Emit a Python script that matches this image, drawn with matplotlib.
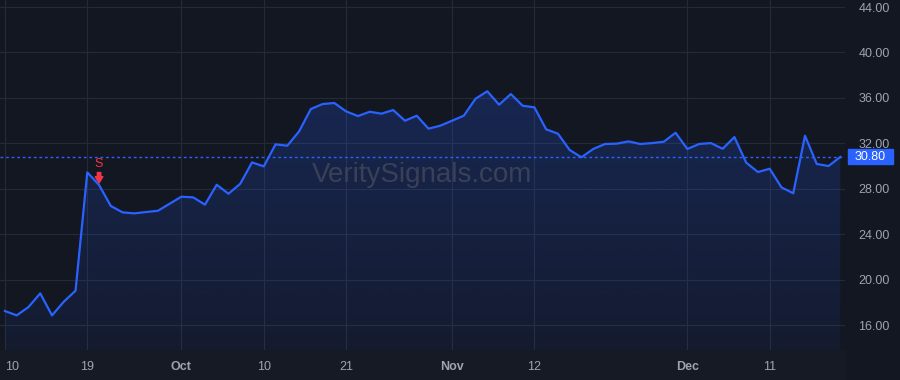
import numpy as np
import matplotlib.pyplot as plt
from matplotlib.patches import Rectangle
from matplotlib.transforms import ScaledTranslation


# Daily closes, Sep 10 - Dec 19 (trading days)
closes = [
    17.23, 16.85, 17.58, 18.79, 16.85, 18.05, 19.02, 29.44, 28.33, 26.48,
    25.92, 25.83, 25.95, 26.06, 26.68, 27.30, 27.24, 26.60, 28.35, 27.56,
    28.44, 30.32, 29.97, 31.91, 31.79, 33.05, 35.02, 35.46, 35.55, 34.81,
    34.40, 34.78, 34.61, 34.93, 33.99, 34.43, 33.29, 33.55, 33.99, 34.43,
    35.93, 36.58, 35.40, 36.34, 35.31, 35.17, 33.23, 32.85, 31.41, 30.77,
    31.50, 31.94, 31.97, 32.17, 31.94, 32.02, 32.14, 32.93, 31.50, 31.94,
    32.02, 31.52, 32.55, 30.30, 29.47, 29.76, 28.12, 27.60, 32.67, 30.18,
    30.00, 30.80
]

# x tick positions (trading day index) and labels
tick_index = [0, 7, 15, 22, 29, 38, 45, 58, 65]
tick_labels = ["10", "19", "Oct", "10", "21", "Nov", "12", "Dec", "11"]
month_labels = ["Oct", "Nov", "Dec"]

y_ticks = [16, 20, 24, 28, 32, 36, 40, 44]

# sell signal
sell_index = 8
sell_label = "S"

last_price = closes[-1]
watermark = "VeritySignals.com"


# -------------------------------
# Style
# -------------------------------
bg = "#131722"
grid_color = "#252a37"
text_color = "#a0a3ac"
line_blue = "#2962ff"
sell_red = "#f23645"

plt.rcParams["font.family"] = ["Liberation Sans", "DejaVu Sans"]

fig = plt.figure(figsize=(9, 3.8), dpi=100, facecolor=bg)
ax = fig.add_axes([0, 30 / 380, 845 / 900, 350 / 380])
ax.set_facecolor(bg)

# time axis strip
fig.patches.append(
    Rectangle((0, 0), 845 / 900, 30 / 380, transform=fig.transFigure,
              color="#161a25", zorder=-1)
)

x = np.arange(len(closes))
y_min, y_max = 13.8, 44.62
x_min, x_max = -0.42, 71.4


# -------------------------------
# Area with gradient fill
# -------------------------------
fill = ax.fill_between(x, closes, y_min, color="none", lw=0)

rgb = np.array([41, 98, 255]) / 255
grad = np.zeros((256, 1, 4))
grad[..., :3] = rgb
grad[..., 3] = np.linspace(0.06, 0.22, 256).reshape(-1, 1)

img = ax.imshow(
    grad,
    aspect="auto",
    origin="lower",
    extent=[x_min, x_max, y_min, max(closes)],
    zorder=1
)
img.set_clip_path(fill.get_paths()[0], transform=ax.transData)

ax.plot(x, closes, color=line_blue, lw=1.6, zorder=3, solid_joinstyle="round")

# last price dotted line
ax.axhline(last_price, color=line_blue, lw=1, ls=(0, (2, 2)), zorder=2)


# -------------------------------
# Sell marker
# -------------------------------
ax.annotate(
    "",
    xy=(sell_index, closes[sell_index]),
    xytext=(0, 9),
    textcoords="offset points",
    xycoords="data",
    arrowprops=dict(
        arrowstyle="simple,head_width=0.55,head_length=0.45,tail_width=0.25",
        color=sell_red,
        shrinkA=0,
        shrinkB=1.5
    ),
    zorder=4
)
ax.annotate(
    sell_label,
    xy=(sell_index, closes[sell_index]),
    xytext=(0, 15),
    textcoords="offset points",
    ha="center",
    va="center",
    color=sell_red,
    fontsize=9,
    family=["Liberation Sans", "DejaVu Sans"],
    zorder=4
)


# -------------------------------
# Watermark
# -------------------------------
ax.text(
    0.5, 0.5, watermark,
    transform=ax.transAxes,
    ha="center", va="center",
    fontsize=20,
    color="#3a4157",
    zorder=2
)


# -------------------------------
# Axes, ticks, grid
# -------------------------------
ax.set_xlim(x_min, x_max)
ax.set_ylim(y_min, y_max)

ax.set_xticks(tick_index)
ax.set_xticklabels(tick_labels)
for lbl in ax.get_xticklabels():
    if lbl.get_text() in month_labels:
        lbl.set_fontweight("bold")

# first label sits at the left edge
first = ax.get_xticklabels()[0]
first.set_horizontalalignment("left")
first.set_transform(first.get_transform() + ScaledTranslation(-4 / 100, 0, fig.dpi_scale_trans))

ax.yaxis.tick_right()
ax.set_yticks(y_ticks)
ax.set_yticklabels([f"{v:.2f}" for v in y_ticks])

ax.tick_params(axis="x", length=0, pad=8, colors=text_color, labelsize=9)
ax.tick_params(axis="y", length=0, pad=9.5, colors=text_color, labelsize=9)

ax.grid(True, color=grid_color, lw=0.8, zorder=0)
ax.set_axisbelow(True)

for spine in ax.spines.values():
    spine.set_visible(False)


# -------------------------------
# Last price label
# -------------------------------
box_h = 15 / (350 / (y_max - y_min))
trans = ax.get_yaxis_transform()
ax.add_patch(
    Rectangle((848 / 845, last_price - box_h / 2), 45 / 845, box_h,
              transform=trans, color=line_blue, clip_on=False, zorder=5)
)
ax.text(
    (848 + 22.5) / 845, last_price, f"{last_price:.2f}",
    transform=trans,
    ha="center", va="center",
    color="white", fontsize=9,
    clip_on=False, zorder=6
)

plt.savefig("out.png", dpi=100, facecolor=bg)
